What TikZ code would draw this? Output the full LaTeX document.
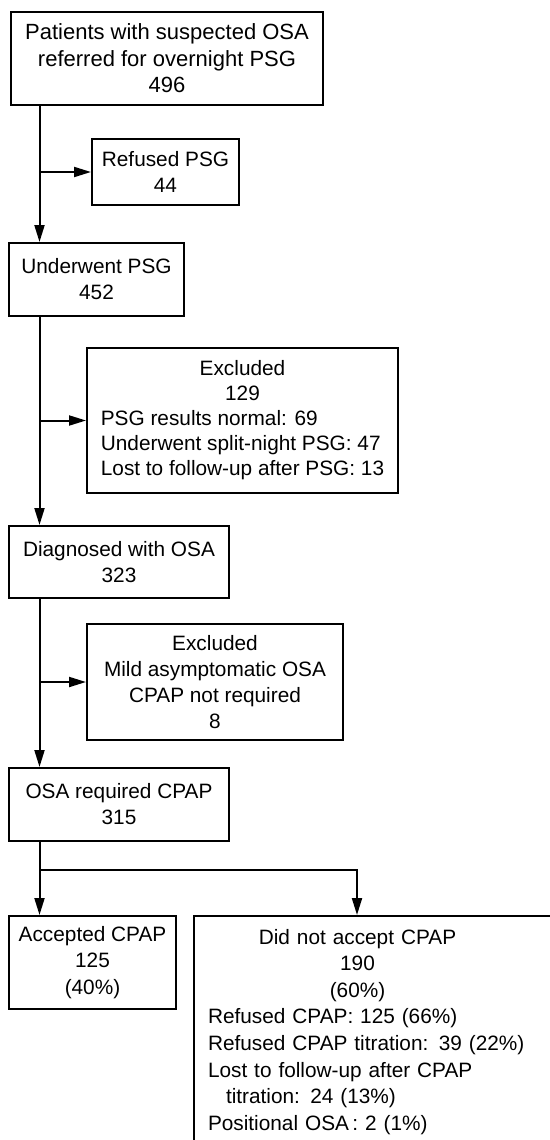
\documentclass[tikz,border=0pt]{standalone}
\usepackage{fontspec}
\setmainfont{Liberation Sans}
\usetikzlibrary{arrows.meta}
\tikzset{
	x = 0.5pt, y = -0.5pt
	,box/.style={
		,draw
		,rectangle
		,line width		= 1pt
		,align			= center
		,inner sep		= 0pt
		,font			= \fontsize{10.4}{13}\selectfont
	}
	,listbox/.style={
		,box
		,align			= left
		,inner xsep		= 7pt
		,inner ysep		= 6.5pt
		,font			= \fontsize{10.4}{13.3}\selectfont
	}
	,link/.style	 = {line width = 1pt, -{Triangle[length=8.5pt, width=5pt]}}
}

\begin{document}
\begin{tikzpicture}

	\useasboundingbox (0,0) rectangle (550,1140);
	\clip (0,0) rectangle (550,1140);

	% the main column
	\node[box, minimum width=156pt, minimum height=46.5pt, font=\fontsize{11}{13.3}\selectfont] (referred) at (167,58.5)
		{Patients with suspected OSA\\referred for overnight PSG\\496};
	\node[box, minimum width=87.5pt, minimum height=36.5pt] (psg) at (96.5,279.5) {Underwent PSG\\452};
	\node[box, minimum width=110pt, minimum height=36pt] (diag) at (119,562) {Diagnosed with OSA\\323};
	\node[box, minimum width=110pt, minimum height=36.5pt] (req) at (119,804.5) {OSA required CPAP\\315};

	% the exclusions
	\node[box, minimum width=73.5pt, minimum height=33pt] (refused) at (165.5,172) {Refused PSG\\44};
	\node[box, minimum width=155.5pt, minimum height=72.5pt, font=\fontsize{10.4}{12.6}\selectfont] (excl1) at (242.5,420.5) {%
		\begin{tabular}{@{}l@{}}
			\multicolumn{1}{@{}c@{}}{Excluded}\\
			\multicolumn{1}{@{}c@{}}{129}\\
			PSG results normal: 69\\
			Underwent split-night PSG: 47\\
			Lost to follow-up after PSG: 13
		\end{tabular}};
	\node[box, minimum width=128pt, minimum height=58pt] (excl2) at (215,682)
		{Excluded\\Mild asymptomatic OSA\\CPAP not required\\8};

	% the outcome
	\node[box, minimum width=83.5pt, minimum height=46.5pt, font=\fontsize{10.4}{13.3}\selectfont] (acc) at (92.5,962.5) {Accepted CPAP\\125\\(40\%)};
	\node[listbox, anchor=north west, text width=180pt] (noacc) at (193,915) {%
		\makebox[149.5pt]{Did not accept CPAP}\\
		\makebox[149.5pt]{190}\\
		\makebox[149.5pt]{(60\%)}\\
		Refused CPAP: 125 (66\%)\\
		Refused CPAP titration: 39 (22\%)\\
		Lost to follow-up after CPAP\\
		\hspace*{9pt}titration: 24 (13\%)\\
		Positional OSA\,: 2 (1\%)};

	% the arrows
	\coordinate (spine) at (39.5,0);
	\coordinate (fork) at (39.5,870);
	\coordinate (noaccTop) at (357,915);
	\draw[link] (referred.south -| spine) -- (psg.north -| spine);
	\draw[link] (spine |- refused.west) -- (refused.west);
	\draw[link] (psg.south -| spine) -- (diag.north -| spine);
	\draw[link] (spine |- excl1.west) -- (excl1.west);
	\draw[link] (diag.south -| spine) -- (req.north -| spine);
	\draw[link] (spine |- excl2.west) -- (excl2.west);
	\draw[link] (req.south -| spine) -- (acc.north -| spine);
	\draw[link] (fork) -| (noaccTop);
\end{tikzpicture}
\end{document}
